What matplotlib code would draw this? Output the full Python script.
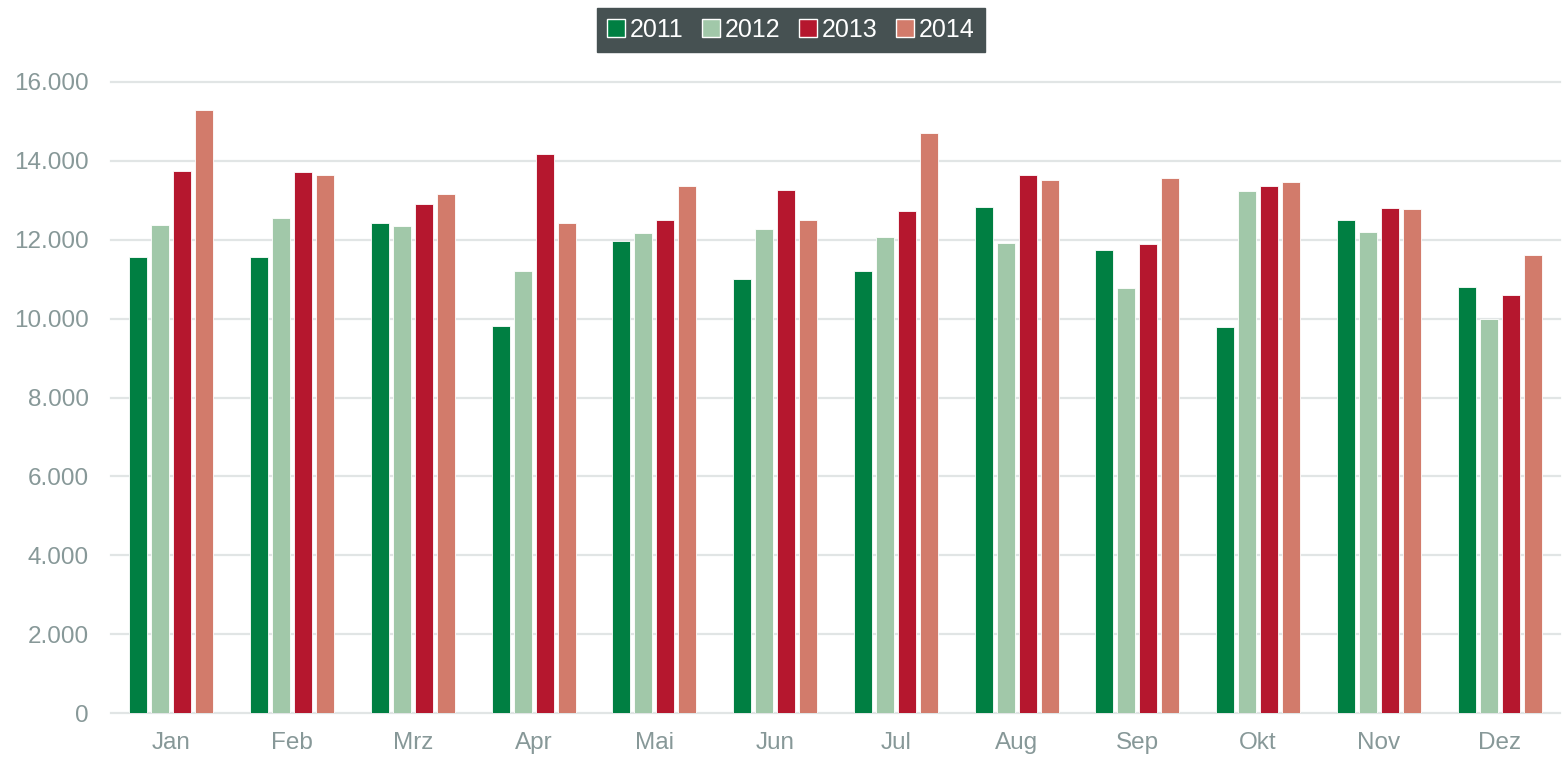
# Monthly values 2011-2014, grouped bar chart
import matplotlib.pyplot as plt
from matplotlib.ticker import FuncFormatter
import numpy as np

plt.rcParams['font.family'] = ['Liberation Sans', 'DejaVu Sans']

months = ["Jan", "Feb", "Mrz", "Apr", "Mai", "Jun", "Jul", "Aug", "Sep", "Okt", "Nov", "Dez"]
years = ["2011", "2012", "2013", "2014"]

v2011 = [11570, 11570, 12420, 9810, 11960, 11000, 11220, 12840, 11750, 9780, 12490, 10800]
v2012 = [12370, 12550, 12340, 11220, 12170, 12280, 12070, 11920, 10770, 13230, 12200, 9990]
v2013 = [13750, 13720, 12900, 14170, 12490, 13260, 12730, 13640, 11890, 13360, 12800, 10600]
v2014 = [15290, 13640, 13150, 12420, 13360, 12490, 14710, 13520, 13570, 13470, 12770, 11620]

colors = ["#007F42", "#A1C8A9", "#B5172E", "#D27B6B"]
series = [v2011, v2012, v2013, v2014]

fig = plt.figure(figsize=(15.68, 7.57), dpi=100)
ax = fig.add_axes([111 / 1568, 1 - 713 / 757, 1449 / 1568, 631 / 757])

x = np.arange(len(months))
step = 0.182
for i, vals in enumerate(series):
    ax.bar(x + (i - 1.5) * step, vals, width=0.15, color=colors[i],
           edgecolor="white", linewidth=0.6, label=years[i], zorder=3)

ax.set_xlim(-0.5, len(months) - 0.5)
ax.set_ylim(0, 16000)
ax.set_yticks(np.arange(0, 16001, 2000))
ax.yaxis.set_major_formatter(FuncFormatter(lambda v, p: f"{int(v):,}".replace(",", ".")))
ax.set_xticks(x)
ax.set_xticklabels(months)

ax.grid(axis="y", color="#E1E5E5", linewidth=1.6, zorder=0)
ax.set_axisbelow(True)
for s in ax.spines.values():
    s.set_visible(False)
for gl in ax.get_ygridlines():
    gl.set_clip_on(False)
ax.tick_params(axis="both", length=0, labelsize=17.5, colors="#879898")
ax.tick_params(axis="y", pad=16)
ax.tick_params(axis="x", pad=14)

leg = fig.legend(loc="upper center", bbox_to_anchor=(0.5045, 0.99), ncol=4,
                 fontsize=18, frameon=True, fancybox=False, framealpha=1,
                 handlelength=0.7, handleheight=0.7, handletextpad=0.2,
                 columnspacing=0.75, borderpad=0.4, borderaxespad=0)
leg.get_frame().set_facecolor("#465152")
leg.get_frame().set_edgecolor("#465152")
for t in leg.get_texts():
    t.set_color("white")
for h in leg.legend_handles:
    h.set_edgecolor("white")
    h.set_linewidth(1.0)

plt.savefig("out.png", dpi=100)
